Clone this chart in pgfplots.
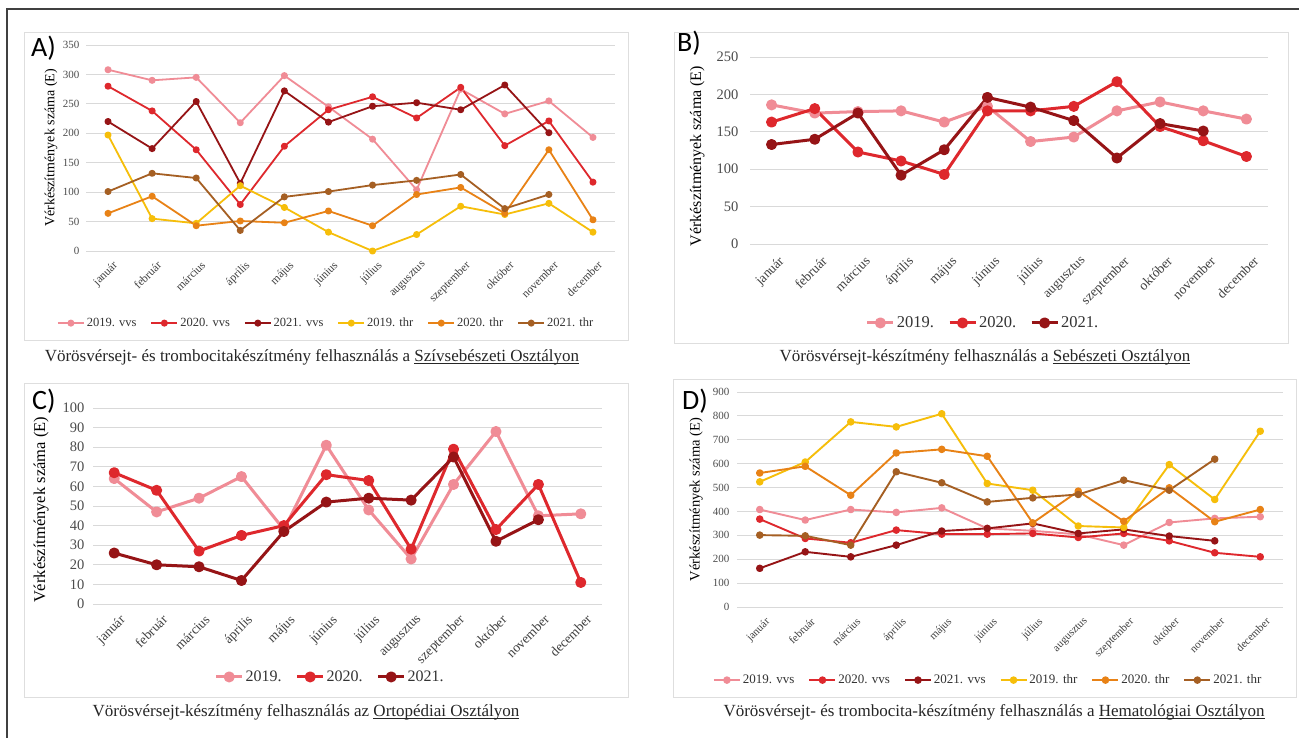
\documentclass[border=0pt]{standalone}
\usepackage{fontspec}
\setmainfont{Liberation Serif}
\newfontfamily\calibri{Carlito}
\usepackage{pgfplots}
\pgfplotsset{compat=1.18}

\definecolor{cA}{RGB}{240,140,150}
\definecolor{cB}{RGB}{222,40,45}
\definecolor{cC}{RGB}{150,20,22}
\definecolor{cD}{RGB}{246,190,10}
\definecolor{cE}{RGB}{232,130,22}
\definecolor{cF}{RGB}{165,95,35}
\definecolor{gridgray}{RGB}{217,217,217}
\definecolor{boxgray}{RGB}{222,222,222}

\newcommand{\fs}[1]{\fontsize{#1}{#1}\selectfont}
% underline close to the baseline
\newcommand{\ul}[1]{\setbox0\hbox{#1}\rlap{\rule[-2.4pt]{\wd0}{0.8pt}}\box0}

\pgfplotsset{
  panel/.style={
    scale only axis, anchor=south west,
    xmin=-0.5, xmax=11.5, ymin=0,
    xtick={0,...,11},
    xticklabels={január,február,március,április,május,június,július,augusztus,szeptember,október,november,december},
    axis line style={draw=none},
    tick style={draw=none},
    ymajorgrids, grid style={color=gridgray, line width=0.9pt},
    /pgf/number format/assume math mode=true,
    yticklabel style={text=black!70},
    xticklabel style={rotate=45, anchor=north east, text=black!75},
    ylabel={Vérkészítmények száma (E)},
    legend columns=-1,
    legend style={draw=none, fill=none, anchor=center, text=black!80,
      /tikz/every even column/.append style={column sep=12pt}},
    legend image code/.code={\draw[mark repeat=2,mark phase=2,#1] plot coordinates {(0pt,0pt) (13pt,0pt) (26pt,0pt)};},
    clip=false,
    every axis plot/.append style={line join=round, mark=*, mark options={solid}},
  },
}

\begin{document}
\begin{tikzpicture}
\useasboundingbox (0,0) rectangle (1299pt,-737pt);
\fill[white] (0,0) rectangle (1299pt,-737pt);
\draw[black!75, line width=1.5pt] (1300pt,-9pt) -- (7pt,-9pt) -- (7pt,-738pt);

% panel boxes
\draw[boxgray, line width=1pt] (24pt,-32pt) rectangle (628pt,-340pt);
\draw[boxgray, line width=1pt] (674pt,-32pt) rectangle (1288pt,-343pt);
\draw[boxgray, line width=1pt] (24pt,-383pt) rectangle (628pt,-697pt);
\draw[boxgray, line width=1pt] (673pt,-379pt) rectangle (1296pt,-697pt);

% ---------------- A ----------------
\begin{axis}[panel, at={(86pt,-251pt)}, width=529pt, height=206pt,
  ymax=350, ytick={0,50,...,350}, yticklabels={0,50,100,150,200,250,300,350},
  yticklabel style={font=\fs{11}, xshift=-3pt},
  xticklabel style={font=\fs{11.5}, yshift=-6pt},
  ylabel style={at={(axis description cs:-0.066,0.5)}, anchor=center, font=\fs{14}},
  legend style={at={(axis description cs:0.454,-0.350)}, font=\fs{12.5}},
  every axis plot/.append style={line width=1.8pt, mark size=2.6pt},
]
\addplot[cA] coordinates {(0,308) (1,290) (2,295) (3,218) (4,298) (5,245) (6,190) (7,104) (8,275) (9,233) (10,255) (11,193)};
\addlegendentry{2019. vvs}
\addplot[cB] coordinates {(0,280) (1,238) (2,172) (3,79) (4,178) (5,240) (6,262) (7,226) (8,278) (9,179) (10,221) (11,117)};
\addlegendentry{2020. vvs}
\addplot[cC] coordinates {(0,220) (1,174) (2,254) (3,115) (4,272) (5,219) (6,246) (7,252) (8,240) (9,282) (10,201)};
\addlegendentry{2021. vvs}
\addplot[cD] coordinates {(0,197) (1,55) (2,47) (3,111) (4,74) (5,32) (6,0) (7,28) (8,76) (9,62) (10,81) (11,32)};
\addlegendentry{2019. thr}
\addplot[cE] coordinates {(0,64) (1,93) (2,43) (3,51) (4,48) (5,68) (6,43) (7,96) (8,108) (9,64) (10,172) (11,53)};
\addlegendentry{2020. thr}
\addplot[cF] coordinates {(0,101) (1,132) (2,124) (3,35) (4,92) (5,101) (6,112) (7,120) (8,130) (9,72) (10,96)};
\addlegendentry{2021. thr}
\end{axis}

% ---------------- B ----------------
\begin{axis}[panel, at={(750pt,-244pt)}, width=518pt, height=187pt,
  ymax=250, ytick={0,50,...,250}, yticklabels={0,50,100,150,200,250},
  yticklabel style={font=\fs{14.5}, xshift=-8pt},
  xticklabel style={font=\fs{13.5}, yshift=-9pt},
  ylabel style={at={(axis description cs:-0.102,0.47)}, anchor=center, font=\fs{16}},
  legend style={at={(axis description cs:0.450,-0.422)}, font=\fs{16.5}},
  every axis plot/.append style={line width=3pt, mark size=4pt},
]
\addplot[cA] coordinates {(0,186) (1,175) (2,177) (3,178) (4,163) (5,184) (6,137) (7,143) (8,178) (9,190) (10,178) (11,167)};
\addlegendentry{2019.}
\addplot[cB] coordinates {(0,163) (1,181) (2,123) (3,111) (4,93) (5,178) (6,178) (7,184) (8,217) (9,157) (10,138) (11,117)};
\addlegendentry{2020.}
\addplot[cC] coordinates {(0,133) (1,140) (2,175) (3,92) (4,126) (5,196) (6,183) (7,165) (8,115) (9,161) (10,151)};
\addlegendentry{2021.}
\end{axis}

% ---------------- C ----------------
\begin{axis}[panel, at={(93pt,-604pt)}, width=509pt, height=196pt,
  ymax=100, ytick={0,10,...,100}, yticklabels={0,10,20,30,40,50,60,70,80,90,100},
  yticklabel style={font=\fs{14.5}, xshift=-5pt},
  xticklabel style={font=\fs{13.5}, yshift=-7pt},
  ylabel style={at={(axis description cs:-0.102,0.48)}, anchor=center, font=\fs{16.5}},
  legend style={at={(axis description cs:0.466,-0.372)}, font=\fs{16}},
  every axis plot/.append style={line width=3pt, mark size=4pt},
]
\addplot[cA] coordinates {(0,64) (1,47) (2,54) (3,65) (4,38) (5,81) (6,48) (7,23) (8,61) (9,88) (10,45) (11,46)};
\addlegendentry{2019.}
\addplot[cB] coordinates {(0,67) (1,58) (2,27) (3,35) (4,40) (5,66) (6,63) (7,28) (8,79) (9,38) (10,61) (11,11)};
\addlegendentry{2020.}
\addplot[cC] coordinates {(0,26) (1,20) (2,19) (3,12) (4,37) (5,52) (6,54) (7,53) (8,75) (9,32) (10,43)};
\addlegendentry{2021.}
\end{axis}

% ---------------- D ----------------
\begin{axis}[panel, at={(737pt,-607pt)}, width=546pt, height=215pt,
  ymax=900, ytick={0,100,...,900}, yticklabels={0,100,200,300,400,500,600,700,800,900},
  yticklabel style={font=\fs{11}, xshift=-4pt},
  xticklabel style={font=\fs{11}, yshift=-7pt},
  ylabel style={at={(axis description cs:-0.075,0.5)}, anchor=center, font=\fs{14.5}},
  legend style={at={(axis description cs:0.460,-0.340)}, font=\fs{13}},
  every axis plot/.append style={line width=1.9pt, mark size=2.8pt},
]
\addplot[cA] coordinates {(0,408) (1,364) (2,408) (3,396) (4,415) (5,329) (6,319) (7,304) (8,259) (9,354) (10,371) (11,378)};
\addlegendentry{2019. vvs}
\addplot[cB] coordinates {(0,368) (1,287) (2,269) (3,322) (4,305) (5,305) (6,308) (7,291) (8,308) (9,277) (10,227) (11,210)};
\addlegendentry{2020. vvs}
\addplot[cC] coordinates {(0,162) (1,231) (2,210) (3,259) (4,318) (5,329) (6,350) (7,308) (8,325) (9,297) (10,277)};
\addlegendentry{2021. vvs}
\addplot[cD] coordinates {(0,524) (1,607) (2,775) (3,754) (4,809) (5,517) (6,489) (7,339) (8,333) (9,596) (10,450) (11,736)};
\addlegendentry{2019. thr}
\addplot[cE] coordinates {(0,561) (1,589) (2,468) (3,645) (4,660) (5,631) (6,352) (7,485) (8,359) (9,499) (10,357) (11,408)};
\addlegendentry{2020. thr}
\addplot[cF] coordinates {(0,301) (1,298) (2,259) (3,566) (4,520) (5,440) (6,457) (7,471) (8,531) (9,489) (10,619)};
\addlegendentry{2021. thr}
\end{axis}

% panel letters
\node[font=\calibri\fs{28}, anchor=west, inner sep=0pt] at (31pt,-48pt) {A)};
\node[font=\calibri\fs{28}, anchor=west, inner sep=0pt] at (677pt,-43pt) {B)};
\node[font=\calibri\fs{28}, anchor=west, inner sep=0pt] at (32pt,-401pt) {C)};
\node[font=\calibri\fs{28}, anchor=west, inner sep=0pt] at (682pt,-401pt) {D)};

% captions
\node[font=\fs{17}, text=black!85] at (312pt,-357pt) {Vörösvérsejt- és trombocitakészítmény felhasználás a \ul{Szívsebészeti Osztályon}};
\node[font=\fs{17}, text=black!85] at (985pt,-357pt) {Vörösvérsejt-készítmény felhasználás a \ul{Sebészeti Osztályon}};
\node[font=\fs{17}, text=black!85] at (306pt,-712pt) {Vörösvérsejt-készítmény felhasználás az \ul{Ortopédiai Osztályon}};
\node[font=\fs{17}, text=black!85] at (994pt,-712pt) {Vörösvérsejt- és trombocita-készítmény felhasználás a \ul{Hematológiai Osztályon}};
\end{tikzpicture}
\end{document}
